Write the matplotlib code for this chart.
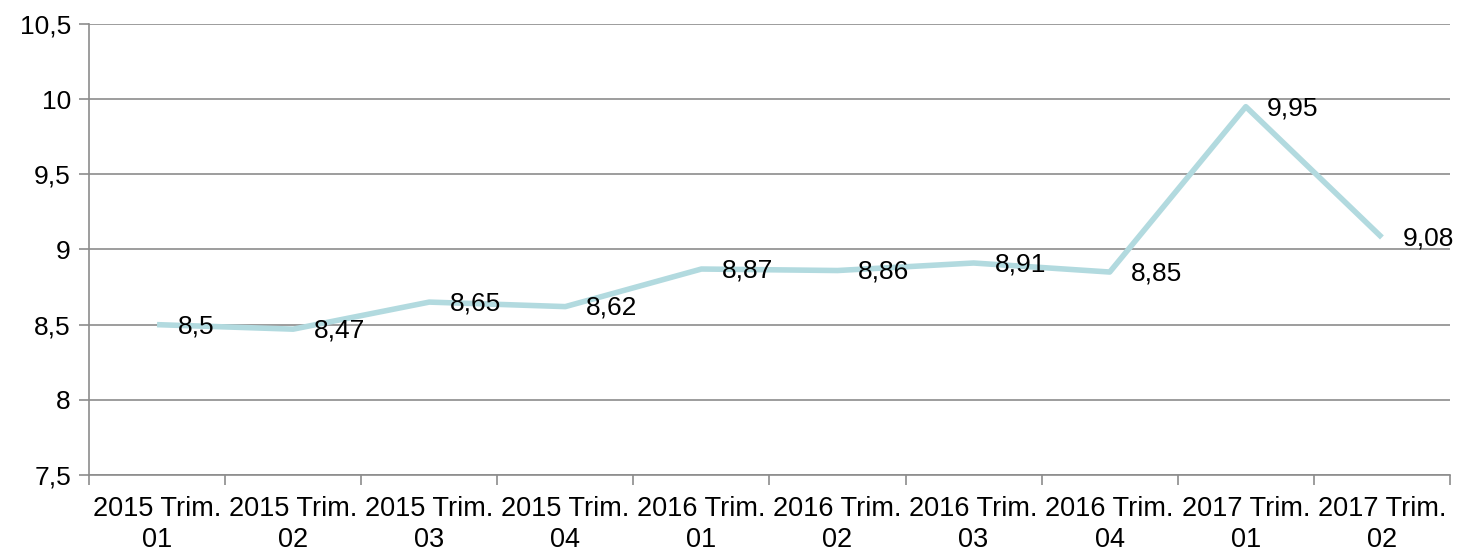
import matplotlib
matplotlib.use('Agg')
import matplotlib.pyplot as plt
import numpy as np
from matplotlib.ticker import FixedLocator, FuncFormatter

plt.rcParams['font.family'] = ['Liberation Sans', 'DejaVu Sans']

quarters = ['2015 Trim.\n01', '2015 Trim.\n02', '2015 Trim.\n03', '2015 Trim.\n04',
            '2016 Trim.\n01', '2016 Trim.\n02', '2016 Trim.\n03', '2016 Trim.\n04',
            '2017 Trim.\n01', '2017 Trim.\n02']
values = [8.5, 8.47, 8.65, 8.62, 8.87, 8.86, 8.91, 8.85, 9.95, 9.08]

def comma(v):
    s = ('%.2f' % v).rstrip('0').rstrip('.')
    return s.replace('.', ',')

fig = plt.figure(figsize=(14.59, 5.5), dpi=100)
ax = fig.add_axes([0.061, 0.1364, 0.9328, 0.82])

x = np.arange(len(values)) + 0.5
ax.plot(x, values, color='#B2DADF', linewidth=4, solid_capstyle='butt', zorder=3)
for xi, v in zip(x, values):
    ax.annotate(comma(v), (xi, v), xytext=(15, -1), textcoords='offset points',
                ha='left', va='center', fontsize=19, color='black', zorder=4)

ax.set_xlim(0, len(values))
ax.set_ylim(7.5, 10.5)
ax.set_yticks(np.arange(7.5, 10.51, 0.5))
ax.yaxis.set_major_formatter(FuncFormatter(lambda v, p: comma(v)))
ax.yaxis.grid(True, color='#8c8c8c', linewidth=1.2)
ax.set_axisbelow(True)

ax.xaxis.set_major_locator(FixedLocator(np.arange(0, len(values) + 1)))
ax.xaxis.set_major_formatter(FuncFormatter(lambda v, p: ''))
ax.xaxis.set_minor_locator(FixedLocator(x))
ax.set_xticklabels(quarters, minor=True, linespacing=1.25)
ax.tick_params(axis='x', which='minor', length=0, labelsize=19.5, pad=15)
ax.tick_params(axis='x', which='major', length=7, color='#8c8c8c', width=1.2)
ax.tick_params(axis='y', length=7, color='#8c8c8c', width=1.2, labelsize=19, pad=6)

for s in ['top', 'right']:
    ax.spines[s].set_visible(False)
for s in ['left', 'bottom']:
    ax.spines[s].set_color('#8c8c8c')
    ax.spines[s].set_linewidth(1.2)

fig.savefig('out.png', dpi=100)
